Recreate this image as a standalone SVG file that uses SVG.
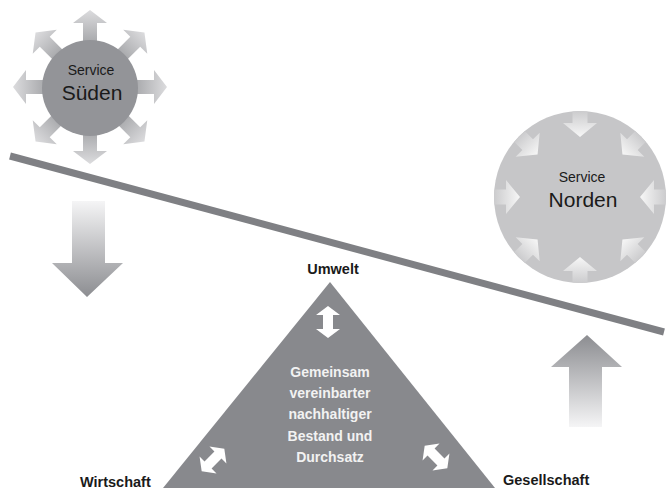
<svg xmlns="http://www.w3.org/2000/svg" width="668" height="491" viewBox="0 0 668 491">
<style>
.lbl{font-family:"Liberation Sans",Arial,sans-serif;fill:#1a1a1a}
.b{font-weight:bold}
.tri{font-family:"Liberation Sans",Arial,sans-serif;font-weight:bold;font-size:14px;fill:#f2f2f2;text-anchor:middle}
.dbl{fill:#ffffff}
</style>
<defs>
<linearGradient id="gOut" gradientUnits="userSpaceOnUse" x1="0" y1="-44" x2="0" y2="-77">
<stop offset="0" stop-color="#a6a7aa"/><stop offset="1" stop-color="#dcdcde"/>
</linearGradient>
<linearGradient id="gIn" gradientUnits="userSpaceOnUse" x1="0" y1="-88" x2="0" y2="-60">
<stop offset="0" stop-color="#c8c8ca"/><stop offset="1" stop-color="#f7f7f7"/>
</linearGradient>
<linearGradient id="gDown" x1="0" y1="0" x2="0" y2="1">
<stop offset="0" stop-color="#f5f5f6"/><stop offset="1" stop-color="#8c8d91"/>
</linearGradient>
<linearGradient id="gUp" x1="0" y1="0" x2="0" y2="1">
<stop offset="0" stop-color="#8c8d91"/><stop offset="1" stop-color="#f5f5f6"/>
</linearGradient>
<path id="aOut" d="M-7,-44 L-7,-64 L-17,-64 L0,-77 L17,-64 L7,-64 L7,-44 Z" fill="url(#gOut)"/>
<path id="aIn" d="M-7.5,-90 L-7.5,-74 L-17,-74 L0,-60 L17,-74 L7.5,-74 L7.5,-90 Z" fill="url(#gIn)"/>
<path id="dArrow" d="M-16,0 L-7,-12 L-7,-5 L7,-5 L7,-12 L16,0 L7,12 L7,5 L-7,5 L-7,12 Z"/>
<clipPath id="cN"><circle cx="580" cy="197" r="86"/></clipPath>
</defs>

<g id="node-sueden">
<g transform="translate(90,87)">
<use href="#aOut"/>
<use href="#aOut" transform="rotate(45)"/>
<use href="#aOut" transform="rotate(90)"/>
<use href="#aOut" transform="rotate(135)"/>
<use href="#aOut" transform="rotate(180)"/>
<use href="#aOut" transform="rotate(225)"/>
<use href="#aOut" transform="rotate(270)"/>
<use href="#aOut" transform="rotate(315)"/>
</g>
<circle cx="90" cy="88" r="48" fill="#939498"/>
<text class="lbl" x="91" y="75" font-size="14" text-anchor="middle">Service</text>
<text class="lbl" x="92" y="100" font-size="21" text-anchor="middle">Süden</text>
</g>

<g id="node-norden">
<circle cx="580" cy="197" r="86" fill="#c6c6c8"/>
<g clip-path="url(#cN)">
<g transform="translate(580,197)">
<use href="#aIn"/>
<use href="#aIn" transform="rotate(45)"/>
<use href="#aIn" transform="rotate(90)"/>
<use href="#aIn" transform="rotate(135)"/>
<use href="#aIn" transform="rotate(180)"/>
<use href="#aIn" transform="rotate(225)"/>
<use href="#aIn" transform="rotate(270)"/>
<use href="#aIn" transform="rotate(315)"/>
</g>
</g>
<text class="lbl" x="582" y="182" font-size="14" text-anchor="middle">Service</text>
<text class="lbl" x="583" y="207" font-size="21" text-anchor="middle">Norden</text>
</g>

<g id="beam">
<line x1="10" y1="156" x2="664" y2="332" stroke="#7f8084" stroke-width="7"/>
</g>

<g id="arrow-down">
<path d="M72,201 L105,201 L105,263 L123,263 L87,297 L52,263 L72,263 Z" fill="url(#gDown)"/>
</g>

<g id="arrow-up">
<path d="M587,335 L622,367 L602,367 L602,427 L569,427 L569,367 L551,367 Z" fill="url(#gUp)"/>
</g>

<g id="node-triangle">
<path d="M330,282 L495,488 L163,488 Z" fill="#88898d"/>
<use href="#dArrow" class="dbl" transform="translate(328,322) rotate(90)"/>
<use href="#dArrow" class="dbl" transform="translate(213,460) rotate(-45)"/>
<use href="#dArrow" class="dbl" transform="translate(436,457) rotate(45)"/>
<text class="tri" x="330" y="377">Gemeinsam</text>
<text class="tri" x="330" y="398">vereinbarter</text>
<text class="tri" x="330" y="419">nachhaltiger</text>
<text class="tri" x="330" y="441">Bestand und</text>
<text class="tri" x="330" y="462">Durchsatz</text>
</g>

<g id="labels">
<text class="lbl b" x="333" y="274" font-size="14.5" text-anchor="middle">Umwelt</text>
<text class="lbl b" x="80" y="487" font-size="14.5">Wirtschaft</text>
<text class="lbl b" x="503" y="485" font-size="14.5">Gesellschaft</text>
</g>
</svg>
